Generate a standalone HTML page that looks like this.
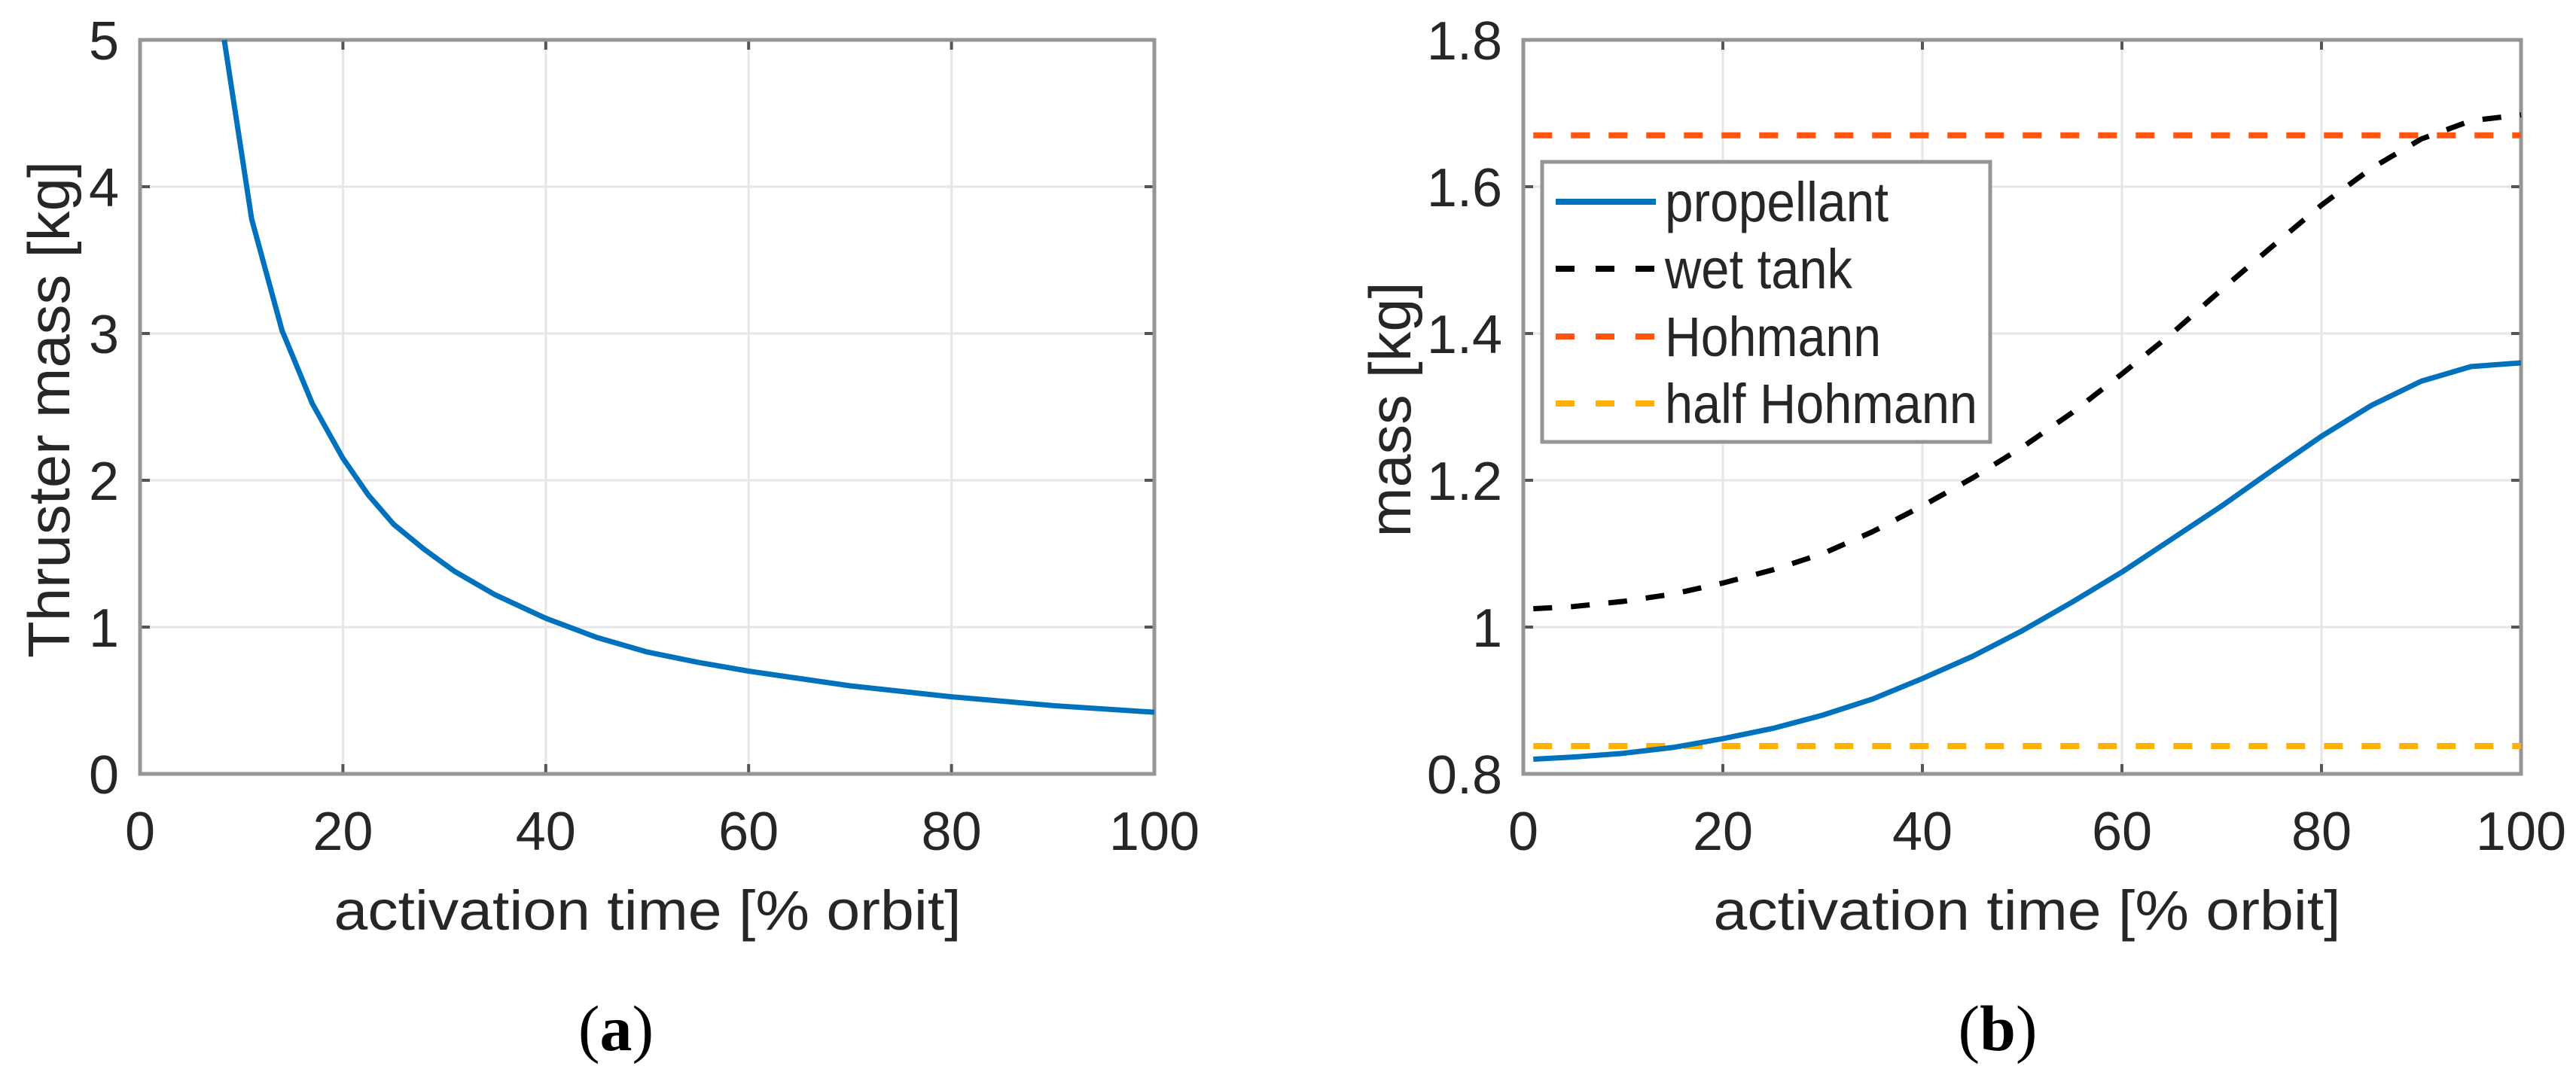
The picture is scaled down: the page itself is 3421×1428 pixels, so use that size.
<!DOCTYPE html>
<html><head><meta charset="utf-8">
<style>
html,body{margin:0;padding:0;background:#fff;}
svg{display:block;}
text{font-family:"Liberation Sans",Arial,sans-serif;fill:#262626;}
.cap{font-family:"Liberation Serif","Times New Roman",serif;fill:#000;}
</style></head>
<body>
<svg id="fig" width="3421" height="1428" viewBox="0 0 3421 1428" xmlns="http://www.w3.org/2000/svg"></svg>
<script>
// ---- Chart (a) data ----
const aX = [8.3, 11, 14, 17, 20, 22.5, 25, 28, 31, 35, 40, 45, 50, 55, 60, 70, 80, 90, 100];
const aY = [5.0, 3.78, 3.02, 2.52, 2.15, 1.9, 1.7, 1.53, 1.38, 1.22, 1.06, 0.93, 0.83, 0.76, 0.70, 0.6, 0.525, 0.465, 0.42];
const aXTicks = [0, 20, 40, 60, 80, 100];
const aYTicks = [0, 1, 2, 3, 4, 5];
const aYTickLabels = ["0", "1", "2", "3", "4", "5"];
// ---- Chart (b) data ----
const bX = [1, 5, 10, 15, 20, 25, 30, 35, 40, 45, 50, 55, 60, 65, 70, 75, 80, 85, 90, 95, 100];
const propellant = [0.82, 0.823, 0.828, 0.836, 0.848, 0.862, 0.88, 0.902, 0.93, 0.96, 0.995, 1.034, 1.075, 1.12, 1.165, 1.213, 1.26, 1.302, 1.335, 1.355, 1.36];
const wetTank = [1.025, 1.028, 1.035, 1.045, 1.06, 1.078, 1.1, 1.13, 1.165, 1.203, 1.245, 1.292, 1.345, 1.4, 1.46, 1.518, 1.575, 1.625, 1.665, 1.69, 1.698];
const hohmann = 1.670;
const halfHohmann = 0.838;
const bXTicks = [0, 20, 40, 60, 80, 100];
const bYTicks = [0.8, 1.0, 1.2, 1.4, 1.6, 1.8];
const bYTickLabels = ["0.8", "1", "1.2", "1.4", "1.6", "1.8"];

const NS = "http://www.w3.org/2000/svg";
const svg = document.getElementById('fig');
function mk(tag, attrs, parent, txt) {
  const e = document.createElementNS(NS, tag);
  for (const k in attrs) e.setAttribute(k, attrs[k]);
  if (txt !== undefined) e.textContent = txt;
  (parent || svg).appendChild(e);
  return e;
}

function drawAxes(P, xTicks, yTicks, yLabels, name) {
  const g = mk('g', {});
  
  
  const sx = v => P.x0 + (v - P.xmin) / (P.xmax - P.xmin) * (P.x1 - P.x0);
  const sy = v => P.y1 - (v - P.ymin) / (P.ymax - P.ymin) * (P.y1 - P.y0);
  xTicks.forEach(t => {
    const l = mk('line', {x1: sx(t), x2: sx(t), y1: P.y0, y2: P.y1, stroke: '#e6e6e6', 'stroke-width': 3}, g);
    
    
  });
  yTicks.forEach(t => {
    const l = mk('line', {x1: P.x0, x2: P.x1, y1: sy(t), y2: sy(t), stroke: '#e6e6e6', 'stroke-width': 3}, g);
    
    
  });
  xTicks.forEach(t => {
    mk('line', {x1: sx(t), x2: sx(t), y1: P.y1, y2: P.y1 - 13, stroke: '#555', 'stroke-width': 4}, g);
    mk('line', {x1: sx(t), x2: sx(t), y1: P.y0, y2: P.y0 + 13, stroke: '#555', 'stroke-width': 4}, g);
    const tx = mk('text', {x: sx(t), y: 1129, 'font-size': 72, 'text-anchor': 'middle'}, g, String(t));
    
    
  });
  yTicks.forEach((t, i) => {
    mk('line', {x1: P.x0, x2: P.x0 + 13, y1: sy(t), y2: sy(t), stroke: '#555', 'stroke-width': 4}, g);
    mk('line', {x1: P.x1, x2: P.x1 - 13, y1: sy(t), y2: sy(t), stroke: '#555', 'stroke-width': 4}, g);
    const tx = mk('text', {x: P.x0 - 28, y: sy(t) + 26, 'font-size': 72, 'text-anchor': 'end'}, g, yLabels[i]);
    
    
  });
  const box = mk('rect', {x: P.x0, y: P.y0, width: P.x1 - P.x0, height: P.y1 - P.y0, fill: 'none', stroke: '#959595', 'stroke-width': 5}, g);
  
  
  return {sx, sy};
}
function path(xs, ys, S, attrs, name) {
  const d = xs.map((x, i) => (i ? 'L' : 'M') + S.sx(x).toFixed(1) + ',' + S.sy(ys[i]).toFixed(1)).join(' ');
  const p = mk('path', Object.assign({d: d, fill: 'none', 'stroke-linejoin': 'round'}, attrs));
  
  
  return p;
}

// ---- Chart (a) ----
const PA = {x0: 186, x1: 1533, y0: 53, y1: 1028, xmin: 0, xmax: 100, ymin: 0, ymax: 5};
const SA = drawAxes(PA, aXTicks, aYTicks, aYTickLabels, 'chart-a');
path(aX, aY, SA, {stroke: '#0072BD', 'stroke-width': 7}, 'thruster-mass-line');
let t = mk('text', {x: 860, y: 1235, 'font-size': 74, 'text-anchor': 'middle', textLength: 833, lengthAdjust: 'spacingAndGlyphs'}, svg, 'activation time [% orbit]');


t = mk('text', {x: 0, y: 0, 'font-size': 78, 'text-anchor': 'middle', textLength: 660, lengthAdjust: 'spacingAndGlyphs', transform: 'translate(92,544) rotate(-90)'}, svg, 'Thruster mass [kg]');


t = mk('text', {x: 818, y: 1395, 'font-size': 86, 'text-anchor': 'middle', class: 'cap'}, svg);
mk('tspan', {}, t, '(');
mk('tspan', {'font-weight': 'bold'}, t, 'a');
mk('tspan', {}, t, ')');



// ---- Chart (b) ----
const PB = {x0: 2023, x1: 3348, y0: 53, y1: 1028, xmin: 0, xmax: 100, ymin: 0.8, ymax: 1.8};
const SB = drawAxes(PB, bXTicks, bYTicks, bYTickLabels, 'chart-b');
path([1, 100], [hohmann, hohmann], SB, {stroke: '#FF5511', 'stroke-width': 8, 'stroke-dasharray': '25,25'}, 'hohmann-line');
path([1, 100], [halfHohmann, halfHohmann], SB, {stroke: '#FFB000', 'stroke-width': 8, 'stroke-dasharray': '25,25'}, 'half-hohmann-line');
path(bX, wetTank, SB, {stroke: '#000', 'stroke-width': 7, 'stroke-dasharray': '25,25'}, 'wet-tank-line');
path(bX, propellant, SB, {stroke: '#0072BD', 'stroke-width': 7}, 'propellant-line');
t = mk('text', {x: 2692, y: 1235, 'font-size': 74, 'text-anchor': 'middle', textLength: 833, lengthAdjust: 'spacingAndGlyphs'}, svg, 'activation time [% orbit]');


t = mk('text', {x: 0, y: 0, 'font-size': 78, 'text-anchor': 'middle', textLength: 339, lengthAdjust: 'spacingAndGlyphs', transform: 'translate(1873,544) rotate(-90)'}, svg, 'mass [kg]');


t = mk('text', {x: 2653, y: 1395, 'font-size': 86, 'text-anchor': 'middle', class: 'cap'}, svg);
mk('tspan', {}, t, '(');
mk('tspan', {'font-weight': 'bold'}, t, 'b');
mk('tspan', {}, t, ')');



// ---- Legend ----
const legNames = ['propellant', 'wet tank', 'Hohmann', 'half Hohmann'];
const legColors = ['#0072BD', '#000', '#FF5511', '#FFB000'];
const legWidths = [297, 249, 287, 415];
const leg = mk('g', {});


mk('rect', {x: 2048, y: 215, width: 595, height: 372, fill: '#fff', stroke: '#959595', 'stroke-width': 5}, leg);
const legY = [268, 357, 447, 536];
legNames.forEach((n, i) => {
  const e = mk('g', {}, leg);
  
  
  mk('line', {x1: 2066, x2: 2199, y1: legY[i], y2: legY[i], stroke: legColors[i], 'stroke-width': 8, 'stroke-dasharray': i ? '25,28' : 'none'}, e);
  mk('text', {x: 2211, y: legY[i] + 26, 'font-size': 74, fill: '#000', textLength: legWidths[i], lengthAdjust: 'spacingAndGlyphs'}, e, n);
});
</script>
</body></html>
